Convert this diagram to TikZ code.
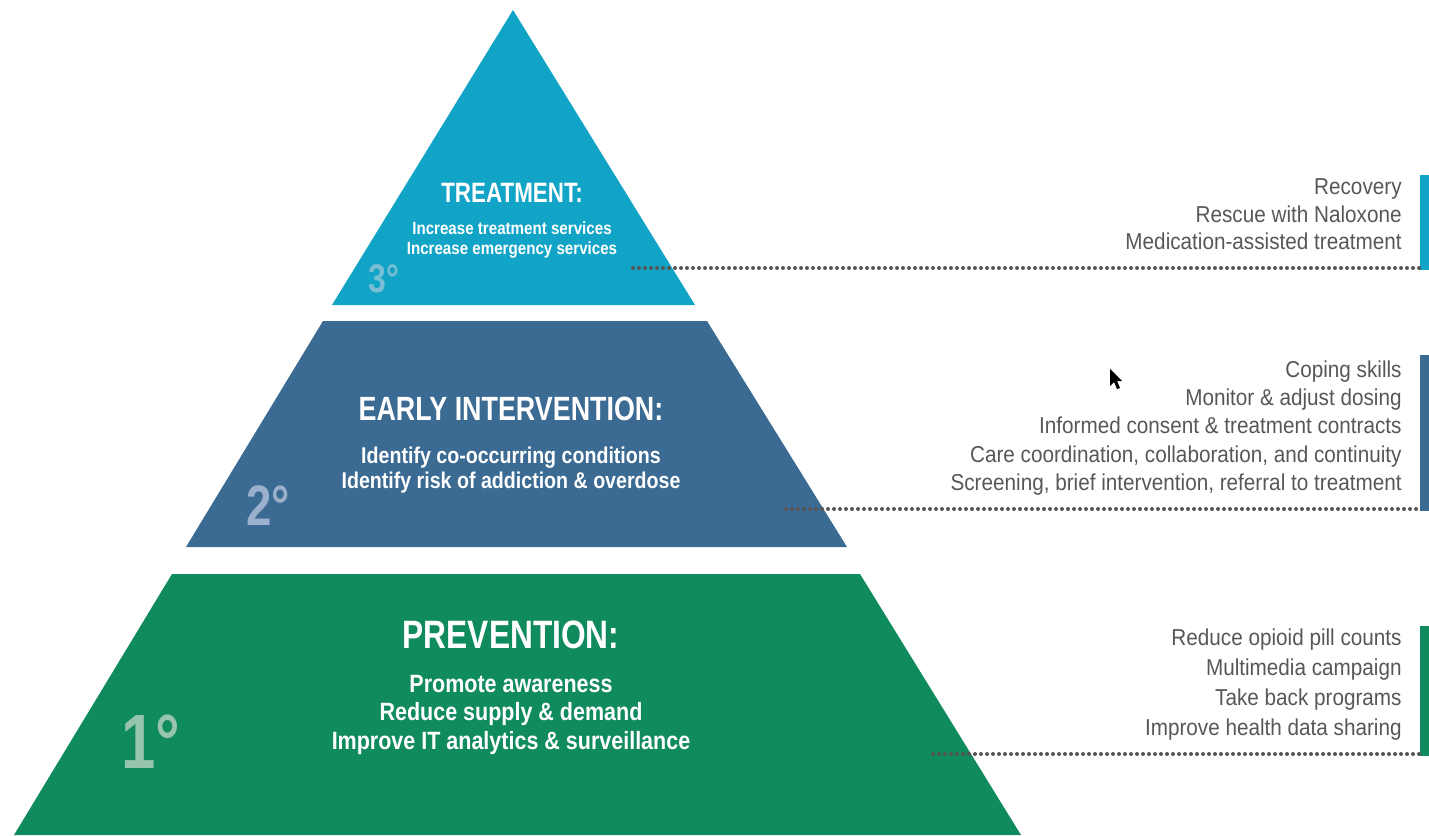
\documentclass[tikz,border=0pt]{standalone}
\usepackage{fontspec}
\setmainfont[FakeStretch=0.9]{Liberation Sans}
\newfontfamily\ttlfont[FakeStretch=0.8]{Liberation Sans}
\newfontfamily\subfont[FakeStretch=0.86]{Liberation Sans}
\definecolor{cT}{HTML}{12A4C7}
\definecolor{cE}{HTML}{3B6A92}
\definecolor{cP}{HTML}{108B5E}
\definecolor{dT}{HTML}{79BFD3}
\definecolor{dE}{HTML}{9BB0CC}
\definecolor{dP}{HTML}{96C4AC}
\definecolor{txtgray}{HTML}{575757}
\definecolor{dotgray}{HTML}{555555}
\begin{document}
\begin{tikzpicture}[x=0.5pt,y=-0.5pt,
  rt/.style={anchor=base east, text=txtgray, inner sep=0pt, font=\fontsize{11.5}{13}\selectfont},
  ttl/.style={anchor=base, text=white, inner sep=0pt, font=\ttlfont\bfseries\fontsize{#1}{#1}\selectfont},
  sub/.style={anchor=base, text=white, inner sep=0pt, font=\subfont\bfseries\fontsize{#1}{#1}\selectfont},
  deg/.style={anchor=base west, inner sep=0pt, font=\ttlfont\bfseries\fontsize{#1}{#1}\selectfont},
  dotline/.style={draw=dotgray, line width=2pt, line cap=round, dash pattern=on 0pt off 3pt},
]
\useasboundingbox (0,0) rectangle (1429,835);

% pyramid levels
\fill[cT] (513,10) -- (695,305) -- (332,305) -- cycle;
\fill[cE] (323,321) -- (707,321) -- (847,547) -- (186,547) -- cycle;
\fill[cP] (172,574) -- (860,574) -- (1021,835) -- (14,835) -- cycle;

% degree labels
\node[deg=20, text=dT] (g3) at (368,292) {3°};
\node[deg=28.5, text=dE] (g2) at (246,525) {2°};
\node[deg=38.5, text=dP] (g1) at (121,768) {1°};

% titles and texts inside
\node[ttl=14] (tT) at (512,202) {TREATMENT:};
\node[sub=8.8] (sT1) at (512,234) {Increase treatment services};
\node[sub=8.8] (sT2) at (512,254) {Increase emergency services};

\node[ttl=16.8] (tE) at (511,420) {EARLY INTERVENTION:};
\node[sub=11.4] (sE1) at (511,463) {Identify co-occurring conditions};
\node[sub=11.4] (sE2) at (511,488) {Identify risk of addiction \& overdose};

\node[ttl=19.8] (tP) at (511,648) {PREVENTION:};
\node[sub=12.5] (sP1) at (511,692) {Promote awareness};
\node[sub=12.5] (sP2) at (511,720) {Reduce supply \& demand};
\node[sub=12.5] (sP3) at (511,749) {Improve IT analytics \& surveillance};

% right bars
\fill[cT] (1420,175) rectangle (1429,270);
\fill[cE] (1420,355) rectangle (1429,511);
\fill[cP] (1420,626) rectangle (1429,756);
\coordinate (bT) at (1420,268);
\coordinate (bE) at (1420,509);
\coordinate (bP) at (1420,754);

% dotted leaders
\coordinate (aT) at (633,268);
\coordinate (aE) at (786,509);
\coordinate (aP) at (933,754);
\draw[dotline] (aT) -- (bT);
\draw[dotline] (aE) -- (bE);
\draw[dotline] (aP) -- (bP);

% right texts
\node[rt] (r1) at (1402,194) {Recovery};
\node[rt] (r2) at (1402,222) {Rescue with Naloxone};
\node[rt] (r3) at (1402,249) {Medication-assisted treatment};

\node[rt] (m1) at (1402,377) {Coping skills};
\node[rt] (m2) at (1402,405) {Monitor \& adjust dosing};
\node[rt] (m3) at (1402,433) {Informed consent \& treatment contracts};
\node[rt] (m4) at (1402,462) {Care coordination, collaboration, and continuity};
\node[rt] (m5) at (1402,490) {Screening, brief intervention, referral to treatment};

\node[rt] (p1) at (1402,645) {Reduce opioid pill counts};
\node[rt] (p2) at (1402,675) {Multimedia campaign};
\node[rt] (p3) at (1402,705) {Take back programs};
\node[rt] (p4) at (1402,735) {Improve health data sharing};

% mouse cursor
\fill[black] (1110,369) -- (1110,386) -- (1114,382) -- (1117,389) -- (1120,388) -- (1117,381) -- (1122,381) -- cycle;
\end{tikzpicture}
\end{document}
